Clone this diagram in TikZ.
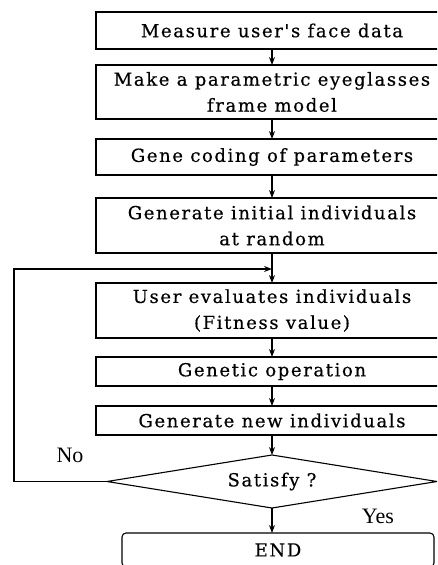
\documentclass[tikz,border=0pt]{standalone}
\usepackage{fontspec}
\setmainfont{Liberation Serif}
\newfontfamily\stepfont[LetterSpace=9, FakeBold=0.5]{DejaVu Serif}
\usetikzlibrary{shapes, arrows.meta, positioning}
\tikzstyle{process} = [rectangle, draw=black, line width=1.1pt, minimum width=352pt, text centered, align=center, inner sep=0pt, outer sep=0pt, font=\stepfont\fontsize{18}{26}\selectfont]
\tikzstyle{decision} = [diamond, aspect=6.2, draw=black, line width=1.1pt, minimum width=330pt, minimum height=53pt, inner sep=0pt, outer sep=0pt, font=\stepfont\fontsize{18}{26}\selectfont]
\tikzstyle{stop} = [rectangle, rounded corners=4pt, draw=black, line width=1.1pt, minimum width=312pt, minimum height=34pt, inner sep=0pt, outer sep=0pt, font=\stepfont\fontsize{18}{26}\selectfont]
\tikzstyle{arrow} = [line width=1.1pt, -{Stealth[length=8pt, width=6pt]}]

\begin{document}
\begin{tikzpicture}
\path[use as bounding box, clip] (0,0) rectangle (437pt,-565pt);
\node (b1) [process, minimum height=37pt] at (272pt,-30.5pt) {Measure user's face data};
\node (b2) [process, minimum height=54pt, below=16pt of b1] {Make a parametric eyeglasses\\frame model};
\node (b3) [process, minimum height=36pt, below=20pt of b2] {Gene coding of parameters};
\node (b4) [process, minimum height=55pt, below=23pt of b3] {Generate initial individuals\\at random};
\node (b5) [process, minimum height=55pt, below=30pt of b4] {User evaluates individuals\\(Fitness value)};
\node (b6) [process, minimum height=29pt, below=19pt of b5] {Genetic operation};
\node (b7) [process, minimum height=29pt, below=20pt of b6] {Generate new individuals};
\node (sat) [decision, below=20pt of b7] {Satisfy ?};
\node (end) [stop, below=25pt of sat, xshift=6pt] {END};
\node (no) [font=\fontsize{22}{24}\selectfont] at (70pt,-455pt) {No};
\node (yes) [font=\fontsize{22}{24}\selectfont] at (378pt,-516pt) {Yes};
\coordinate (join) at ([yshift=-16pt]b4.south);
\coordinate (corner) at (14pt,0pt);
\draw [arrow] (b1) -- (b2);
\draw [arrow] (b2) -- (b3);
\draw [arrow] (b3) -- (b4);
\draw [arrow] (b4) -- (b5);
\draw [arrow] (b5) -- (b6);
\draw [arrow] (b6) -- (b7);
\draw [arrow] (b7) -- (sat);
\draw [arrow] (sat.south) -- (sat.south |- end.north);
\draw [arrow] (sat.west) -- (sat.west -| corner) |- (join);
\end{tikzpicture}
\end{document}
